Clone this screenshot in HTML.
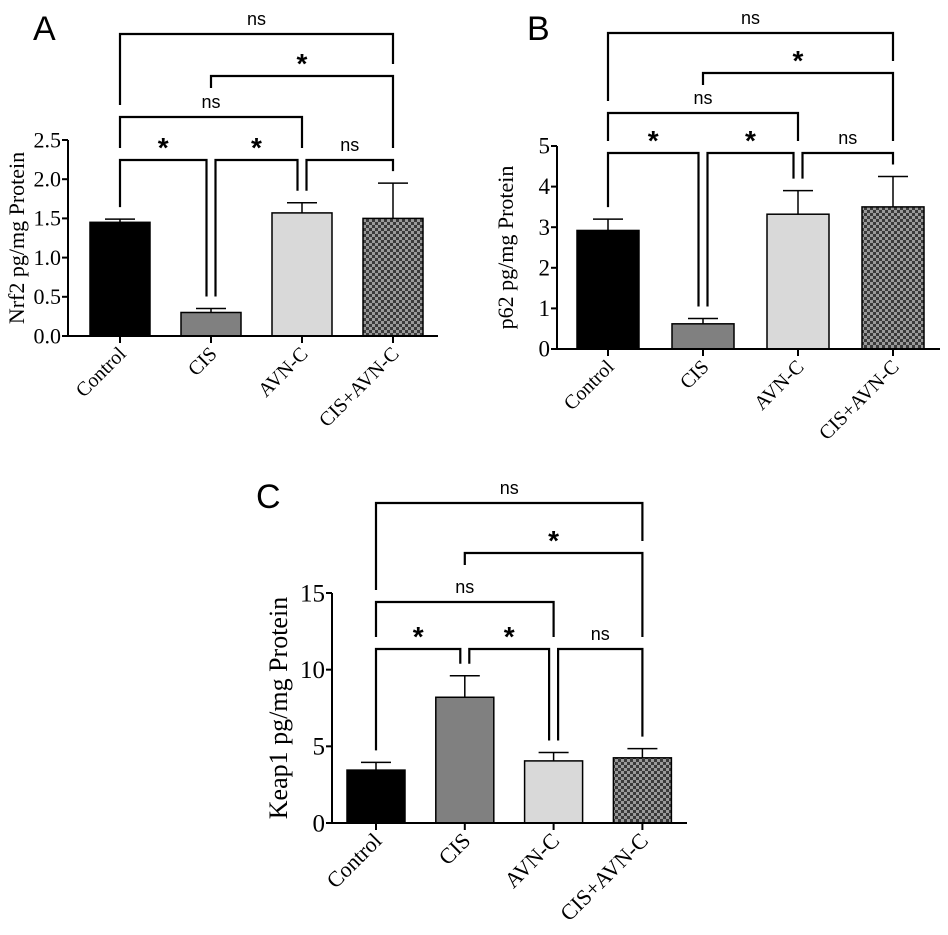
<!DOCTYPE html>
<html><head><meta charset="utf-8"><style>
body{margin:0;background:#fff}
svg{display:block}
</style></head><body>
<svg id="fig" width="948" height="935" viewBox="0 0 948 935" xmlns="http://www.w3.org/2000/svg">
<defs>
<pattern id="checker" width="6" height="6" patternUnits="userSpaceOnUse">
<rect width="6" height="6" fill="#3a3a3a"/><rect width="3" height="3" fill="#9a9a9a"/><rect x="3" y="3" width="3" height="3" fill="#9a9a9a"/>
</pattern>
</defs>
</svg>
<script>
const categories = ["Control","CIS","AVN-C","CIS+AVN-C"];
const nrf2Values = [1.45, 0.30, 1.57, 1.50];
const nrf2Errors = [1.49, 0.35, 1.70, 1.95];
const nrf2Ticks = ["0.0","0.5","1.0","1.5","2.0","2.5"];
const p62Values = [2.92, 0.62, 3.32, 3.50];
const p62Errors = [3.20, 0.75, 3.90, 4.25];
const p62Ticks = ["0","1","2","3","4","5"];
const keap1Values = [3.45, 8.20, 4.05, 4.25];
const keap1Errors = [3.95, 9.60, 4.60, 4.85];
const keap1Ticks = ["0","5","10","15"];
const comparisons = [[0,1,0,"*"],[1,2,0,"*"],[2,3,0,"ns"],[0,2,1,"ns"],[1,3,2,"*"],[0,3,3,"ns"]];
const stubLeft = [false,false,false,false,true,false];

const NS="http://www.w3.org/2000/svg";
const svg=document.getElementById('fig');
const fills=["#000","#808080","#d9d9d9","url(#checker)"];
function el(t,a,p){const e=document.createElementNS(NS,t);for(const k in a)e.setAttribute(k,a[k]);(p||svg).appendChild(e);return e;}

function panel(cfg){
  const g=el('g',{});
  
  
  const ys=v=>cfg.y0-(v/cfg.ymax)*(cfg.y0-cfg.yTop);
  const xc=i=>cfg.c0+i*cfg.step;
  const L=el('text',{x:cfg.lx,y:cfg.ly,'font-family':'Liberation Sans, sans-serif','font-size':34},g);L.textContent=cfg.letter;
  
  
  cfg.vals.forEach((v,i)=>{
    const c=xc(i),w=cfg.bw;
    const b=el('rect',{x:c-w/2,y:ys(v),width:w,height:cfg.y0-ys(v),fill:fills[i],stroke:'#000','stroke-width':1.5},g);
    
    
    const e=cfg.errs[i];
    const eb=el('path',{d:`M${c},${ys(v)}V${ys(e)}M${c-15},${ys(e)}H${c+15}`,stroke:'#000','stroke-width':1.5,fill:'none'},g);
    
    
  });
  const ax=el('path',{d:`M${cfg.x0},${cfg.yTop}V${cfg.y0}H${cfg.xEnd}`,stroke:'#000','stroke-width':2,fill:'none'},g);
  
  
  cfg.ticks.forEach((t,k)=>{
    const v=cfg.ymax*k/(cfg.ticks.length-1),y=ys(v);
    el('line',{x1:cfg.x0-6,x2:cfg.x0,y1:y,y2:y,stroke:'#000','stroke-width':2},g);
    const tt=el('text',{x:cfg.x0-7,y:y+cfg.tfs*0.33,'text-anchor':'end','font-family':'Liberation Serif, serif','font-size':cfg.tfs},g);tt.textContent=t;
    
    
  });
  categories.forEach((c,i)=>{
    const x=xc(i);
    el('line',{x1:x,x2:x,y1:cfg.y0,y2:cfg.y0+7,stroke:'#000','stroke-width':2},g);
    const t=el('text',{x:x+7,y:cfg.y0+19,'text-anchor':'end','font-family':'Liberation Serif, serif','font-size':cfg.xfs,transform:`rotate(-45 ${x+7} ${cfg.y0+19})`},g);t.textContent=c;
    
    
  });
  const yt=el('text',{x:cfg.tx,y:(cfg.yTop+cfg.y0)/2,'text-anchor':'middle','font-family':'Liberation Serif, serif','font-size':cfg.afs,transform:`rotate(-90 ${cfg.tx} ${(cfg.yTop+cfg.y0)/2})`},g);yt.textContent=cfg.title;
  
  
  comparisons.forEach(([i,j,lv,lab],n)=>{
    const Ly=cfg.levels[lv];
    const shareL=comparisons.some(c=>c[2]===lv&&c[1]===i);
    const shareR=comparisons.some(c=>c[2]===lv&&c[0]===j);
    const below=col=>{let cands=[ys(cfg.errs[col])];comparisons.forEach(c=>{if(c[2]<lv&&c[0]<=col&&c[1]>=col)cands.push(cfg.levels[c[2]]);});return Math.min(...cands.filter(y=>y>Ly))-12;};
    const xl=xc(i)+(shareL?4.5:0),xr=xc(j)-(shareR?4.5:0);
    const yl=stubLeft[n]?Ly+12:below(i);
    const p=el('path',{d:`M${xl},${yl}V${Ly}H${xr}V${below(j)}`,stroke:'#000','stroke-width':2.2,fill:'none'},g);
    
    
    const star=lab==='*';
    const t=el('text',{x:(xl+xr)/2,y:star?Ly-3:Ly-9,'text-anchor':'middle','font-family':'Liberation Sans, sans-serif','font-size':star?28:18,'font-weight':star?'bold':'normal'},g);t.textContent=lab;
    
    
  });
}
panel({name:'panel-a-nrf2',letter:'A',lx:33,ly:40,vals:nrf2Values,errs:nrf2Errors,ticks:nrf2Ticks,ymax:2.5,x0:68,xEnd:438,y0:336,yTop:140,c0:120,step:91,bw:60,levels:[160,117,76,34],tfs:22,xfs:20,afs:22,tx:24,title:'Nrf2 pg/mg Protein'});
panel({name:'panel-b-p62',letter:'B',lx:527,ly:40,vals:p62Values,errs:p62Errors,ticks:p62Ticks,ymax:5,x0:557,xEnd:940,y0:349,yTop:146,c0:608,step:95,bw:62,levels:[153,113,73,33],tfs:23,xfs:20,afs:22,tx:513,title:'p62 pg/mg Protein'});
panel({name:'panel-c-keap1',letter:'C',lx:256,ly:508,vals:keap1Values,errs:keap1Errors,ticks:keap1Ticks,ymax:15,x0:332,xEnd:687,y0:823,yTop:593,c0:376,step:88.8,bw:58,levels:[649,602,553,503],tfs:25,xfs:22,afs:26,tx:287,title:'Keap1 pg/mg Protein'});
</script>
</body></html>
